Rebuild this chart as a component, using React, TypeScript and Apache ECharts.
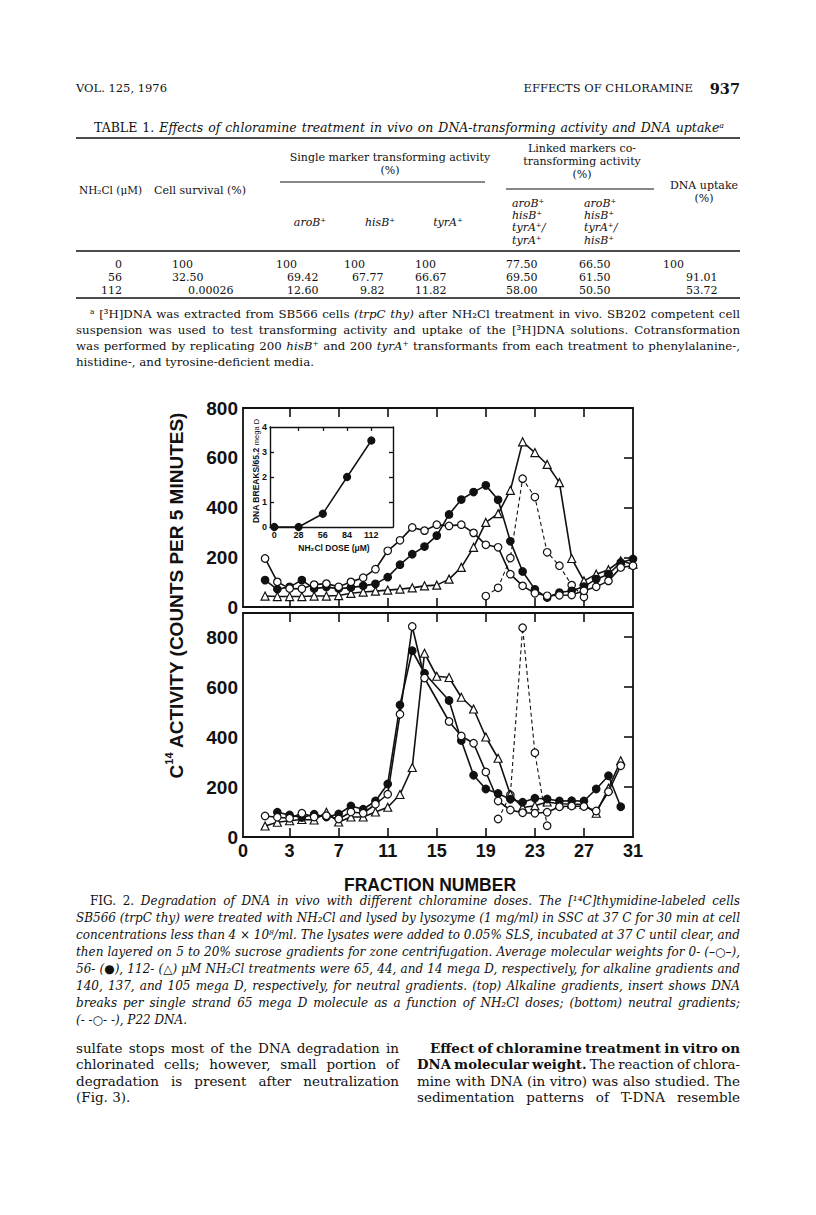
import React, { useEffect, useRef } from "react";
import * as echarts from "echarts";

const INK = "#111111";
const SERIF = "DejaVu Serif";
const SANS = "Liberation Sans";

// ---------- Figure 2 data (fraction number -> C14 counts per 5 min) ----------
const FRACTIONS_TOP = [1, 2, 3, 4, 5, 6, 7, 8, 9, 10, 11, 12, 13, 14, 15, 16, 17, 18, 19, 20, 21, 22, 23, 24, 25, 26, 27, 28, 29, 30, 31];
const FRACTIONS_BOTTOM = [1, 2, 3, 4, 5, 6, 7, 8, 9, 10, 11, 12, 13, 14, 15, 16, 17, 18, 19, 20, 21, 22, 23, 24, 25, 26, 27, 28, 29, 30];

// top: alkaline gradients
const TOP_DOSE_0 = [195, 101, 74, 73, 90, 94, 81, 101, 118, 152, 226, 268, 320, 307, 331, 326, 331, 298, 250, 240, 132, 85, 55, 45, 47, 48, 65, 81, 105, 159, 166];
const TOP_DOSE_56 = [108, 71, 81, 108, 74, 80, 74, 78, 85, 93, 120, 170, 212, 243, 287, 372, 432, 462, 489, 431, 264, 143, 71, 38, 58, 65, 82, 112, 132, 179, 193];
const TOP_DOSE_112 = [44, 42, 42, 42, 44, 44, 46, 55, 60, 64, 68, 72, 77, 85, 88, 112, 159, 240, 340, 375, 469, 664, 621, 573, 500, 195, 105, 132, 150, 186, 172];
const TOP_P22 = [null, null, null, null, null, null, null, null, null, null, null, null, null, null, null, null, null, null, 44, 77, 197, 516, 442, 220, 166, 88, 40, null, null, null, null];

// bottom: neutral gradients
const BOTTOM_DOSE_0 = [84, 79, 75, 95, 80, 85, 72, 100, 95, 131, 171, 491, 842, 636, null, 462, 404, 375, 260, 144, 108, 97, 95, 99, 121, 124, 122, 104, 181, 285];
const BOTTOM_DOSE_56 = [null, 99, 88, 78, 91, 80, 92, 124, 111, 144, 212, 528, 745, 655, null, 546, 386, 247, 192, 174, 151, 139, 155, 152, 144, 145, 144, 192, 245, 121];
const BOTTOM_DOSE_112 = [44, 59, 65, 70, 68, 99, 60, 80, 80, 100, 119, 170, 278, 735, 643, 638, 559, 512, 400, 315, 170, 118, 125, 140, 133, 132, 130, 95, 195, 305];
const BOTTOM_P22 = [null, null, null, null, null, null, null, null, null, null, null, null, null, null, null, null, null, null, null, 72, 168, 837, 337, 45, null, null, null, null, null, null];

const X_TICKS = [3, 7, 11, 15, 19, 23, 27];
const Y_LABELS = [0, 200, 400, 600, 800];
const X_MIN = -0.8;
const X_MAX = 31;

// inset
const INSET_DOSE = [0, 28, 56, 84, 112];
const INSET_BREAKS = [0, 0, 0.53, 2.0, 3.46];
const INSET_Y_LABELS = [0, 1, 2, 3, 4];

// ---------- Table 1 ----------
const DOSES = ["0", "56", "112"];
const SURVIVAL = ["100", "32.50", "0.00026"];
const SINGLE_AROB = ["100", "69.42", "12.60"];
const SINGLE_HISB = ["100", "67.77", "9.82"];
const SINGLE_TYRA = ["100", "66.67", "11.82"];
const LINKED_TYRA = ["77.50", "69.50", "58.00"];
const LINKED_HISB = ["66.50", "61.50", "50.50"];
const UPTAKE = ["100", "91.01", "53.72"];

const TABLE_TITLE = "_TABLE _1. Effects of chloramine treatment in vivo on DNA-transforming activity and DNA uptakeᵃ";
const FOOTNOTE = [
  "ᵃ [³H]DNA was extracted from SB566 cells _(trpC _thy) after NH₂Cl treatment in vivo. SB202 competent cell",
  "suspension was used to test transforming activity and uptake of the [³H]DNA solutions. Cotransformation",
  "was performed by replicating 200 _hisB⁺ and 200 _tyrA⁺ transformants from each treatment to phenylalanine-,",
  "histidine-, and tyrosine-deficient media.",
];
const CAPTION = [
  "_FIG. _2. Degradation of DNA in vivo with different chloramine doses. The [¹⁴C]thymidine-labeled cells",
  "SB566 (trpC thy) were treated with NH₂Cl and lysed by lysozyme (1 mg/ml) in SSC at 37 C for 30 min at cell",
  "concentrations less than 4 × 10⁸/ml. The lysates were added to 0.05% SLS, incubated at 37 C until clear, and",
  "then layered on 5 to 20% sucrose gradients for zone centrifugation. Average molecular weights for 0- (–○–),",
  "56- (●), 112- (△) μM NH₂Cl treatments were 65, 44, and 14 mega D, respectively, for alkaline gradients and",
  "140, 137, and 105 mega D, respectively, for neutral gradients. (top) Alkaline gradients, insert shows DNA",
  "breaks per single strand 65 mega D molecule as a function of NH₂Cl doses; (bottom) neutral gradients;",
  "(- -○- -), P22 DNA.",
];
const BODY_LEFT = [
  "sulfate stops most of the DNA degradation in",
  "chlorinated cells; however, small portion of",
  "degradation is present after neutralization",
  "(Fig. 3).",
];
const BODY_RIGHT = [
  "!Effect !of !chloramine !treatment !in !vitro !on",
  "!DNA !molecular !weight. The reaction of chlora-",
  "mine with DNA (in vitro) was also studied. The",
  "sedimentation patterns of T-DNA resemble",
];

// ---------- helpers ----------
let measureCtx: any = null;
function measure(text: string, size: number, family: string, bold = false, italic = false) {
  if (!measureCtx) measureCtx = document.createElement("canvas").getContext("2d");
  measureCtx.font = `${italic ? "italic " : ""}${bold ? "bold " : ""}${size}px "${family}"`;
  return measureCtx.measureText(text).width;
}

function txt(text: string, x: number, y: number, o: any) {
  const align = o.align || "left";
  const va = o.vAlign || "middle";
  return {
    type: "text",
    x,
    y,
    rotation: o.rotation || 0,
    silent: true,
    z: 10,
    style: {
      text,
      fill: o.fill || INK,
      fontSize: o.size,
      fontFamily: o.family || SERIF,
      fontWeight: o.bold ? "bold" : "normal",
      fontStyle: o.italic ? "italic" : "normal",
      align,
      verticalAlign: va,
      textAlign: align,
      textVerticalAlign: va,
    },
  };
}

function lineTexts(line: string, x0: number, x1: number, y: number, size: number, justify: boolean, italicDefault = false, family = SERIF) {
  const toks = line.split(" ").filter(Boolean).map((w) => {
    let bold = false;
    let italic = italicDefault;
    while (w.length > 1 && (w[0] === "!" || w[0] === "_")) {
      if (w[0] === "!") bold = true;
      else italic = !italic;
      w = w.slice(1);
    }
    return { w, bold, italic };
  });
  let s = size;
  const natural = (sz: number) => toks.reduce((a, t) => a + measure(t.w, sz, family, t.bold, t.italic), 0);
  let sum = natural(s);
  const sp = measure(" ", s, family);
  const avail = x1 - x0;
  const minNeeded = sum + sp * 0.75 * (toks.length - 1);
  if (justify && minNeeded > avail) {
    s = (s * avail) / minNeeded;
    sum = natural(s);
  }
  const gap = justify && toks.length > 1 ? (avail - sum) / (toks.length - 1) : measure(" ", s, family);
  const els: any[] = [];
  let x = x0;
  for (const t of toks) {
    els.push(txt(t.w, x, y, { size: s, family, bold: t.bold, italic: t.italic }));
    x += measure(t.w, s, family, t.bold, t.italic) + gap;
  }
  return els;
}

function rule(x1: number, y: number, x2: number, w: number) {
  return { type: "line", silent: true, z: 10, shape: { x1, y1: y, x2, y2: y }, style: { stroke: INK, lineWidth: w } };
}

function pairs(xs: number[], ys: (number | null)[]) {
  const out: number[][] = [];
  xs.forEach((x, i) => {
    const v = ys[i];
    if (v !== null && v !== undefined) out.push([x, v]);
  });
  return out;
}

// ---------- page text ----------
function buildGraphic() {
  const L = 76;
  const R = 740;
  const g: any[] = [];

  // running head
  g.push(txt("VOL. 125, 1976", L, 88, { size: 11.5 }));
  g.push(txt("EFFECTS OF CHLORAMINE", 693, 88, { size: 11.5, align: "right" }));
  g.push(txt("937", R, 88, { size: 14.5, bold: true, align: "right" }));

  // table
  g.push(...lineTexts(TABLE_TITLE, 94, 724, 127, 12.5, true, true));
  g.push(rule(L, 138, R, 1.6));
  const T = 11;
  g.push(txt("Single marker transforming activity", 390, 157, { size: T, align: "center" }));
  g.push(txt("(%)", 390, 170, { size: T, align: "center" }));
  g.push(rule(280, 182, 485, 1));
  g.push(txt("Linked markers co-", 582, 148, { size: T, align: "center" }));
  g.push(txt("transforming activity", 582, 161, { size: T, align: "center" }));
  g.push(txt("(%)", 582, 174, { size: T, align: "center" }));
  g.push(rule(506, 189, 654, 1));
  g.push(txt("NH₂Cl (μM)", 79, 190, { size: 10.5 }));
  g.push(txt("Cell survival (%)", 154, 190, { size: T }));
  g.push(txt("DNA uptake", 704, 185, { size: T, align: "center" }));
  g.push(txt("(%)", 704, 198, { size: T, align: "center" }));
  g.push(txt("aroB⁺", 310, 222, { size: T, italic: true, align: "center" }));
  g.push(txt("hisB⁺", 380, 222, { size: T, italic: true, align: "center" }));
  g.push(txt("tyrA⁺", 448, 222, { size: T, italic: true, align: "center" }));
  const sub1 = ["aroB⁺", "hisB⁺", "tyrA⁺/", "tyrA⁺"];
  const sub2 = ["aroB⁺", "hisB⁺", "tyrA⁺/", "hisB⁺"];
  const subY = [203, 215, 227, 240];
  sub1.forEach((s, i) => g.push(txt(s, 512, subY[i], { size: T, italic: true })));
  sub2.forEach((s, i) => g.push(txt(s, 584, subY[i], { size: T, italic: true })));
  g.push(rule(L, 251, R, 1.6));
  const rowY = [264, 277, 290];
  const cols: [string[], number[], string][] = [
    [DOSES, [122, 122, 122], "right"],
    [SURVIVAL, [172, 172, 188], "left"],
    [SINGLE_AROB, [276, 287, 287], "left"],
    [SINGLE_HISB, [344, 352, 360], "left"],
    [SINGLE_TYRA, [415, 415, 415], "left"],
    [LINKED_TYRA, [506, 506, 506], "left"],
    [LINKED_HISB, [579, 579, 579], "left"],
    [UPTAKE, [663, 686, 686], "left"],
  ];
  cols.forEach(([vals, xs, al]) => vals.forEach((v, i) => g.push(txt(v, xs[i], rowY[i], { size: T, align: al }))));
  g.push(rule(L, 298, R, 1.6));

  // footnote
  const fy = [314, 330, 346, 362];
  FOOTNOTE.forEach((ln, i) => {
    const x0 = i === 0 ? 90 : L;
    g.push(...lineTexts(ln, x0, R, fy[i], 11.8, i < FOOTNOTE.length - 1));
  });

  // y axis title (rotated)
  const F = 19;
  const wC = measure("C", F, SANS, true);
  const w14 = measure("14", 11, SANS, true);
  const rest = " ACTIVITY (COUNTS PER 5 MINUTES)";
  const wR = measure(rest, F, SANS, true);
  const W = wC + w14 + wR;
  const cx = 176;
  const yb = 595 + W / 2;
  const rot = Math.PI / 2;
  g.push(txt("C", cx, yb, { size: F, family: SANS, bold: true, rotation: rot }));
  g.push(txt("14", cx - 7, yb - wC, { size: 11, family: SANS, bold: true, rotation: rot }));
  g.push(txt(rest, cx, yb - wC - w14, { size: F, family: SANS, bold: true, rotation: rot }));

  // x axis title
  g.push(txt("FRACTION NUMBER", 430, 885, { size: 17.5, family: SANS, bold: true, align: "center" }));

  // inset titles
  const a = "DNA BREAKS/65.2 ";
  const b = "mega D";
  const wa = measure(a, 8.5, SANS, true);
  const wb = measure(b, 7.5, SANS, false);
  const ib = 471 + (wa + wb) / 2;
  g.push(txt(a, 256, ib, { size: 8.5, family: SANS, bold: true, rotation: rot }));
  g.push(txt(b, 256, ib - wa, { size: 7.5, family: SANS, rotation: rot }));
  g.push(txt("NH₂Cl DOSE (μM)", 334, 548, { size: 8.5, family: SANS, bold: true, align: "center" }));

  // caption
  CAPTION.forEach((ln, i) => {
    const x0 = i === 0 ? 90 : L;
    g.push(...lineTexts(ln, x0, R, 901 + 17 * i, 12, i < CAPTION.length - 1, true));
  });

  // body text columns
  const by = [1048, 1064, 1081, 1097];
  BODY_LEFT.forEach((ln, i) => g.push(...lineTexts(ln, L, 399, by[i], 13.5, i < BODY_LEFT.length - 1)));
  BODY_RIGHT.forEach((ln, i) => g.push(...lineTexts(ln, i === 0 ? 430 : 417, R, by[i], 13.5, true)));

  return g;
}

// ---------- chart option ----------
function buildOption() {
  const frame = { show: true, onZero: false, lineStyle: { color: INK, width: 1.8 } };
  const tickStyle = { color: INK, width: 1.6 };
  const axisFont = { fontFamily: SANS, fontWeight: "bold", color: INK };

  const panelX = (grid: number, pos: string, labels: boolean) => ({
    type: "value",
    gridIndex: grid,
    position: pos,
    min: X_MIN,
    max: X_MAX,
    axisLine: frame,
    axisTick: { show: true, inside: true, length: 9, customValues: X_TICKS, lineStyle: tickStyle },
    axisLabel: labels
      ? {
          show: true,
          customValues: [X_MIN, ...X_TICKS, X_MAX],
          formatter: (v: number) => (v < 0 ? "0" : String(Math.round(v))),
          fontSize: 18,
          margin: 5,
          showMinLabel: true,
          showMaxLabel: true,
          ...axisFont,
        }
      : { show: false },
    splitLine: { show: false },
  });
  const panelYLeft = (grid: number, max: number) => ({
    type: "value",
    gridIndex: grid,
    position: "left",
    min: 0,
    max,
    axisLine: frame,
    axisTick: { show: false },
    axisLabel: { show: true, customValues: Y_LABELS, fontSize: 19, margin: 5, showMinLabel: true, showMaxLabel: true, ...axisFont },
    splitLine: { show: false },
  });
  const panelYRight = (grid: number, max: number, ticks: number[]) => ({
    type: "value",
    gridIndex: grid,
    position: "right",
    min: 0,
    max,
    axisLine: frame,
    axisTick: { show: true, inside: true, length: 9, customValues: ticks, lineStyle: tickStyle },
    axisLabel: { show: false },
    splitLine: { show: false },
  });

  const insetFrame = { show: true, onZero: false, lineStyle: { color: INK, width: 1.4 } };
  const insetTick = { color: INK, width: 1.3 };

  const xAxis = [
    panelX(0, "bottom", false),
    panelX(0, "top", false),
    panelX(1, "bottom", true),
    panelX(1, "top", false),
    {
      type: "value", gridIndex: 2, position: "bottom", min: -5, max: 137,
      axisLine: insetFrame, axisTick: { show: false },
      axisLabel: { show: true, customValues: INSET_DOSE, fontSize: 9, margin: 3, ...axisFont },
      splitLine: { show: false },
    },
    {
      type: "value", gridIndex: 2, position: "top", min: -5, max: 137,
      axisLine: insetFrame,
      axisTick: { show: true, inside: true, length: 4, customValues: [28, 56, 84, 112], lineStyle: insetTick },
      axisLabel: { show: false }, splitLine: { show: false },
    },
  ];
  const yAxis = [
    panelYLeft(0, 800),
    panelYRight(0, 800, [200, 400, 600]),
    panelYLeft(1, 896),
    panelYRight(1, 896, [200, 400, 600, 800]),
    {
      type: "value", gridIndex: 2, position: "left", min: 0, max: 4,
      axisLine: insetFrame,
      axisTick: { show: true, inside: true, length: 4, customValues: [1, 2, 3], lineStyle: insetTick },
      axisLabel: { show: true, customValues: INSET_Y_LABELS, fontSize: 9, margin: 3, ...axisFont },
      splitLine: { show: false },
    },
    {
      type: "value", gridIndex: 2, position: "right", min: 0, max: 4,
      axisLine: insetFrame,
      axisTick: { show: true, inside: true, length: 4, customValues: [1, 2, 3], lineStyle: insetTick },
      axisLabel: { show: false }, splitLine: { show: false },
    },
  ];

  const mk = (xi: number, yi: number, data: number[][], kind: string) => {
    const open = kind !== "filled";
    return {
      type: "line",
      xAxisIndex: xi,
      yAxisIndex: yi,
      data,
      clip: false,
      silent: true,
      showAllSymbol: true,
      symbol: kind === "triangle" ? "triangle" : "circle",
      symbolSize: kind === "triangle" ? 8 : 7.5,
      itemStyle: { color: open ? "#ffffff" : INK, borderColor: INK, borderWidth: 1.2 },
      lineStyle: kind === "dashed" ? { color: INK, width: 1.1, type: [4, 3] } : { color: INK, width: 1.6 },
      emphasis: { disabled: true },
      z: kind === "dashed" ? 3 : 4,
    };
  };

  const series = [
    mk(0, 0, pairs(FRACTIONS_TOP, TOP_DOSE_112), "triangle"),
    mk(0, 0, pairs(FRACTIONS_TOP, TOP_DOSE_56), "filled"),
    mk(0, 0, pairs(FRACTIONS_TOP, TOP_DOSE_0), "open"),
    mk(0, 0, pairs(FRACTIONS_TOP, TOP_P22), "dashed"),
    mk(2, 2, pairs(FRACTIONS_BOTTOM, BOTTOM_DOSE_112), "triangle"),
    mk(2, 2, pairs(FRACTIONS_BOTTOM, BOTTOM_DOSE_56), "filled"),
    mk(2, 2, pairs(FRACTIONS_BOTTOM, BOTTOM_DOSE_0), "open"),
    mk(2, 2, pairs(FRACTIONS_BOTTOM, BOTTOM_P22), "dashed"),
    {
      ...mk(4, 4, pairs(INSET_DOSE, INSET_BREAKS), "filled"),
      symbolSize: 7,
      lineStyle: { color: INK, width: 1.5 },
    },
  ];

  return {
    animation: false,
    backgroundColor: "#ffffff",
    grid: [
      { left: 243, top: 408, width: 390, height: 199, containLabel: false },
      { left: 243, top: 613, width: 390, height: 224, containLabel: false },
      { left: 270, top: 427, width: 123, height: 100, containLabel: false },
    ],
    xAxis,
    yAxis,
    series,
    graphic: buildGraphic(),
  };
}

export default function App() {
  const ref = useRef<HTMLDivElement>(null);
  useEffect(() => {
    const chart = echarts.init(ref.current as HTMLDivElement, null, { renderer: "svg", width: 816, height: 1215 });
    chart.setOption(buildOption() as any);
    return () => chart.dispose();
  }, []);
  return (
    <div
      ref={ref}
      style={{ position: "absolute", left: 0, top: 0, width: 816, height: 1215, background: "#ffffff" }}
    />
  );
}
